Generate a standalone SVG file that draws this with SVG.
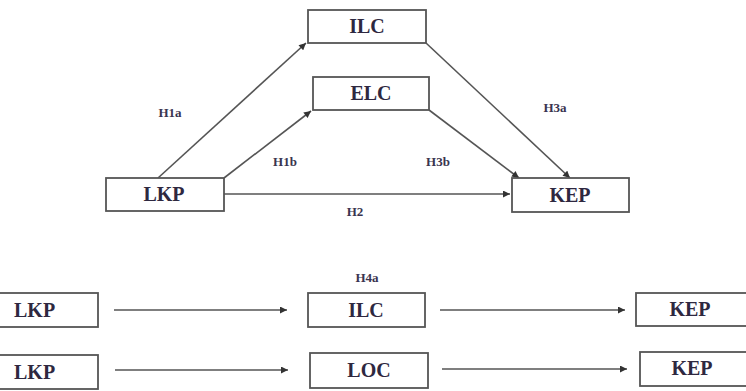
<svg xmlns="http://www.w3.org/2000/svg" width="746" height="391" viewBox="0 0 746 391">
<defs>
<marker id="ah" viewBox="0 0 10 10" refX="10" refY="5" markerWidth="8" markerHeight="7" markerUnits="userSpaceOnUse" orient="auto">
<path d="M0,0 L10,5 L0,10 z" fill="#333"/>
</marker>
<style>
.box{fill:#fff;stroke:#555;stroke-width:1.8}
.t{font-family:"Liberation Serif",serif;font-size:20px;fill:#2e2840;text-anchor:middle;font-weight:bold}
.tl{font-family:"Liberation Serif",serif;font-size:20px;fill:#2e2840;font-weight:bold}
.lab{font-family:"Liberation Serif",serif;font-size:13px;fill:#3a3550;text-anchor:middle;font-weight:bold}
.c{stroke:#555;stroke-width:1.6;fill:none;marker-end:url(#ah)}
</style>
</defs>
<rect width="746" height="391" fill="#fff"/>
<g id="connectors">
<line class="c" x1="158" y1="178" x2="306" y2="43"/>
<line class="c" x1="224" y1="178" x2="311" y2="111"/>
<line class="c" x1="224" y1="194" x2="510" y2="194"/>
<line class="c" x1="426" y1="43" x2="570" y2="178"/>
<line class="c" x1="429" y1="110" x2="519" y2="178"/>
<line class="c" x1="114" y1="310" x2="287" y2="310"/>
<line class="c" x1="440" y1="310" x2="625" y2="310"/>
<line class="c" x1="115" y1="370" x2="288" y2="370"/>
<line class="c" x1="442" y1="369" x2="627" y2="369"/>
</g>
<g id="labels">
<text class="lab" x="170" y="117">H1a</text>
<text class="lab" x="285" y="166">H1b</text>
<text class="lab" x="438" y="166">H3b</text>
<text class="lab" x="555" y="112">H3a</text>
<text class="lab" x="355" y="216">H2</text>
<text class="lab" x="367" y="282">H4a</text>
</g>
<g id="ilc"><rect class="box" x="308" y="10" width="118" height="33"/><text class="t" x="367" y="33">ILC</text></g>
<g id="elc"><rect class="box" x="313" y="77" width="116" height="33"/><text class="t" x="371" y="100">ELC</text></g>
<g id="lkp"><rect class="box" x="106" y="178" width="118" height="33"/><text class="t" x="164" y="201">LKP</text></g>
<g id="kep"><rect class="box" x="512" y="178" width="117" height="34"/><text class="t" x="570" y="202">KEP</text></g>
<g id="lkp2"><rect class="box" x="-5" y="293" width="103" height="34"/><text class="tl" x="14" y="317">LKP</text></g>
<g id="ilc2"><rect class="box" x="308" y="293" width="117" height="34"/><text class="t" x="366" y="317">ILC</text></g>
<g id="kep2"><rect class="box" x="636" y="293" width="115" height="33"/><text class="t" x="690" y="316">KEP</text></g>
<g id="lkp3"><rect class="box" x="-5" y="355" width="103" height="34"/><text class="tl" x="14" y="379">LKP</text></g>
<g id="loc"><rect class="box" x="310" y="353" width="118" height="35"/><text class="t" x="369" y="377">LOC</text></g>
<g id="kep3"><rect class="box" x="640" y="352" width="111" height="34"/><text class="t" x="692" y="375">KEP</text></g>
</svg>
